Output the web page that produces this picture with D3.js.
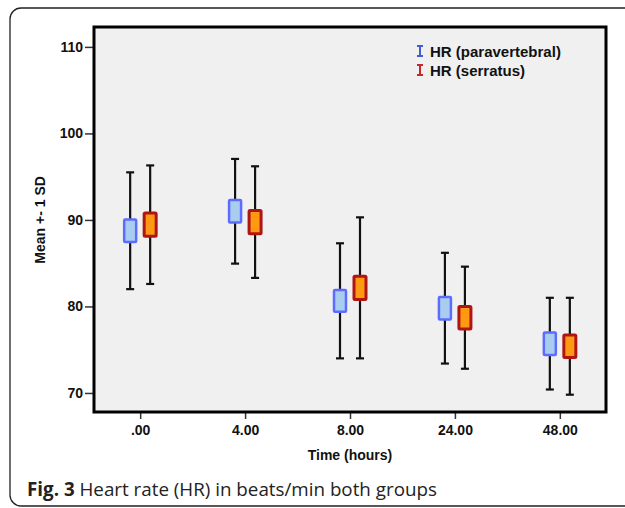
<!DOCTYPE html>
<html>
<head>
<meta charset="utf-8">
<script src="https://cdn.jsdelivr.net/npm/d3@7"></script>
<style>
  body { margin: 0; background: #fff; }
  svg { display: block; }
</style>
</head>
<body>
<div id="chart"></div>
<script>
// data (mean, +-1 SD whisker, box half-height)
var categories = [".00", "4.00", "8.00", "24.00", "48.00"];
var seriesNames = ["HR (paravertebral)", "HR (serratus)"];
var paraMean = [88.75, 91.0, 80.65, 79.8, 75.7];
var paraSD = [6.75, 6.05, 6.65, 6.4, 5.3];
var paraBox = [1.3, 1.3, 1.25, 1.3, 1.3];
var serrMean = [89.45, 89.75, 82.15, 78.7, 75.4];
var serrSD = [6.85, 6.45, 8.15, 5.9, 5.6];
var serrBox = [1.35, 1.35, 1.35, 1.3, 1.3];
var yTicks = [70, 80, 90, 100, 110];

var W = 625, H = 508;
var margin = { top: 27, right: 19, bottom: 96, left: 94 },
    width = W - margin.left - margin.right,
    height = H - margin.top - margin.bottom;

var root = d3.select("#chart").append("svg")
    .attr("width", W)
    .attr("height", H);

// outer rounded frame of the figure
root.append("rect")
    .attr("x", 10).attr("y", 8)
    .attr("width", 630).attr("height", 498)
    .attr("rx", 11)
    .attr("fill", "none")
    .attr("stroke", "#222")
    .attr("stroke-width", 1.3);

var svg = root.append("g")
    .attr("transform", "translate(" + margin.left + "," + margin.top + ")");

var x = d3.scalePoint()
    .domain(categories)
    .range([0, width])
    .padding(0.44);

var y = d3.scaleLinear()
    .domain([67.8, 112.3])
    .range([height, 0]);

svg.append("rect")
    .attr("width", width)
    .attr("height", height)
    .attr("fill", "#f0f0f0");

// axes
var yAxis = svg.append("g")
    .call(d3.axisLeft(y).tickValues(yTicks).tickSize(9).tickPadding(2));
var xAxis = svg.append("g")
    .attr("transform", "translate(0," + height + ")")
    .call(d3.axisBottom(x).tickSize(7).tickPadding(6));
[xAxis, yAxis].forEach(function (a) {
    a.select(".domain").remove();
    a.selectAll("line").attr("stroke", "#333").attr("stroke-width", 1.5);
    a.selectAll("text")
        .attr("fill", "#111")
        .style("font-family", "'Liberation Sans', Arial, sans-serif")
        .style("font-size", "14px")
        .style("font-weight", "bold");
});

// frame of plot area
svg.append("rect")
    .attr("width", width)
    .attr("height", height)
    .attr("fill", "none")
    .attr("stroke", "#000")
    .attr("stroke-width", 3);

// build rows
var series = [
    { name: seriesNames[0], mean: paraMean, sd: paraSD, box: paraBox, dx: -10, fill: "#a9cdef", stroke: "#5d6bff", icon: "#3f5fd0", sw: 2.5, bw: 12 },
    { name: seriesNames[1], mean: serrMean, sd: serrSD, box: serrBox, dx: 10, fill: "#ff9912", stroke: "#b01515", icon: "#c8262a", sw: 3, bw: 12 }
];

series.forEach(function (s) {
    var rows = categories.map(function (c, i) {
        return { cat: c, mean: s.mean[i], sd: s.sd[i], box: s.box[i] };
    });
    var g = svg.append("g");
    var cx = function (d) { return x(d.cat) + s.dx; };

    g.selectAll(".whisker").data(rows).enter().append("line")
        .attr("x1", cx).attr("x2", cx)
        .attr("y1", function (d) { return y(d.mean + d.sd); })
        .attr("y2", function (d) { return y(d.mean - d.sd); })
        .attr("stroke", "#111").attr("stroke-width", 2.2);

    [1, -1].forEach(function (sign) {
        g.selectAll(".cap" + sign).data(rows).enter().append("line")
            .attr("x1", function (d) { return cx(d) - 4; })
            .attr("x2", function (d) { return cx(d) + 4; })
            .attr("y1", function (d) { return y(d.mean + sign * d.sd); })
            .attr("y2", function (d) { return y(d.mean + sign * d.sd); })
            .attr("stroke", "#111").attr("stroke-width", 2.2);
    });

    g.selectAll(".box").data(rows).enter().append("rect")
        .attr("x", function (d) { return cx(d) - s.bw / 2; })
        .attr("width", s.bw)
        .attr("y", function (d) { return y(d.mean + d.box); })
        .attr("height", function (d) { return y(d.mean - d.box) - y(d.mean + d.box); })
        .attr("fill", s.fill)
        .attr("stroke", s.stroke)
        .attr("stroke-width", s.sw)
        .attr("rx", 1);
});

// legend
var legend = svg.append("g")
    .attr("transform", "translate(326,24)");
series.forEach(function (s, i) {
    var lg = legend.append("g").attr("transform", "translate(0," + (i * 19) + ")");
    lg.append("line").attr("x1", 0).attr("x2", 0).attr("y1", -5).attr("y2", 5)
        .attr("stroke", s.icon).attr("stroke-width", 2);
    lg.append("line").attr("x1", -3).attr("x2", 3).attr("y1", -5).attr("y2", -5)
        .attr("stroke", s.icon).attr("stroke-width", 2);
    lg.append("line").attr("x1", -3).attr("x2", 3).attr("y1", 5).attr("y2", 5)
        .attr("stroke", s.icon).attr("stroke-width", 2);
    lg.append("text")
        .attr("x", 10).attr("y", 5.5)
        .style("font-family", "'Liberation Sans', Arial, sans-serif")
        .style("font-size", "15px")
        .style("font-weight", "bold")
        .attr("fill", "#111")
        .text(s.name);
});

// axis titles
svg.append("text")
    .attr("x", width / 2).attr("y", height + 48)
    .attr("text-anchor", "middle")
    .style("font-family", "'Liberation Sans', Arial, sans-serif")
    .style("font-size", "14px")
    .style("font-weight", "bold")
    .attr("fill", "#111")
    .text("Time (hours)");

svg.append("text")
    .attr("transform", "translate(-49," + y(90) + ")rotate(-90)")
    .attr("text-anchor", "middle")
    .style("font-family", "'Liberation Sans', Arial, sans-serif")
    .style("font-size", "14px")
    .style("font-weight", "bold")
    .attr("fill", "#111")
    .text("Mean +- 1 SD");

// caption
var cap = root.append("text")
    .attr("x", 27).attr("y", 496)
    .style("font-family", "'Open Sans', sans-serif")
    .style("font-size", "18.8px")
    .attr("fill", "#222");
cap.append("tspan").style("font-weight", "bold").text("Fig. 3");
cap.append("tspan").text(" Heart rate (HR) in beats/min both groups");
</script>
</body>
</html>
